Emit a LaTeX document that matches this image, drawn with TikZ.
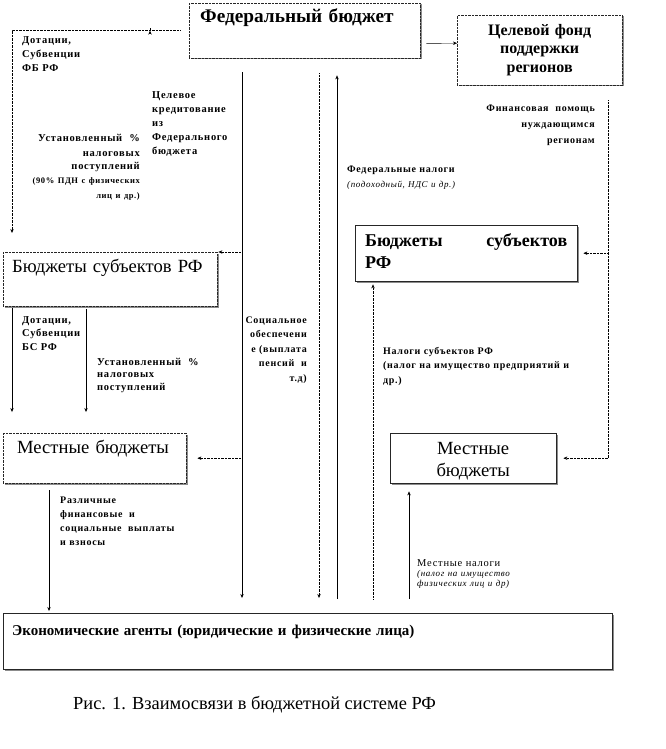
\documentclass[tikz,border=0pt]{standalone}
\usepackage{fontspec}
\setmainfont{Liberation Serif}
\newfontfamily\notefont[LetterSpace=7]{Liberation Serif}
\usetikzlibrary{arrows.meta,positioning,calc,shadows}

\begin{document}
\begin{tikzpicture}[x=1pt,y=-1pt,
  box/.style={draw=black!85,fill=white,anchor=north west,inner ysep=0pt,align=left,
    drop shadow={shadow xshift=1.3pt,shadow yshift=-1.3pt,fill=black!45,opacity=1}},
  dotbox/.style={box,densely dotted},
  note/.style={inner sep=0pt,anchor=base west,align=left,font=\notefont\bfseries\fontsize{10.5}{14}\selectfont},
  rnote/.style={note,anchor=base east,align=right},
  arrow/.style={-{Stealth[length=4pt,width=3.4pt]},thin},
  dotarrow/.style={arrow,densely dotted}
]
  \useasboundingbox (0,0) rectangle (665,749);
  % budget boxes
  \node[dotbox,inner xsep=11pt,text width=209pt,text height=19.5pt,text depth=35.5pt,font=\bfseries\fontsize{19.3}{22}\selectfont] (fed) at (189,3) {Федеральный бюджет};
  \node[dotbox,inner xsep=5pt,text width=155pt,align=center,text height=20pt,text depth=50pt,font=\bfseries\fontsize{16}{18.5}\selectfont] (fund) at (457,15) {Целевой фонд\\поддержки\\регионов};
  \node[dotbox,inner xsep=9pt,text width=196pt,text height=20pt,text depth=34pt,font=\fontsize{18.6}{22}\selectfont] (subjL) at (3,252) {Бюджеты субъектов РФ};
  \node[box,inner xsep=10pt,text width=202pt,text height=21pt,text depth=35pt,font=\bfseries\fontsize{18}{22}\selectfont] (subjR) at (355,225) {Бюджеты\hfill субъектов\\РФ};
  \node[dotbox,inner xsep=14pt,text width=155pt,text height=20pt,text depth=30pt,font=\fontsize{18.6}{22}\selectfont] (locL) at (3,433) {Местные бюджеты};
  \node[box,inner xsep=5pt,text width=156pt,align=center,text height=21pt,text depth=29pt,font=\fontsize{18.6}{22}\selectfont] (locR) at (390,433) {Местные\\бюджеты};
  \node[box,inner xsep=9pt,text width=591pt,text height=22pt,text depth=34pt,font=\bfseries\fontsize{15}{16}\selectfont] (agents) at (3,613) {Экономические агенты (юридические и физические лица)};
  \node[inner sep=0pt,anchor=base west,font=\fontsize{18.4}{22}\selectfont] (caption) at (73,709) {Рис. 1. Взаимосвязи в бюджетной системе РФ};
  % flow labels
  \node[note,text width=80pt] (dotFB) at (22,44) {Дотации,\\Субвенции\\ФБ РФ};
  \node[note,text width=80pt] (credit) at (152,99) {Целевое\\кредитование\\из\\Федерального\\бюджета};
  \node[rnote,text width=135pt] (shareFB) at (140,142) {Установленный~~\%\\налоговых\\поступлений\\\fontsize{8.5}{14}\selectfont(90\% ПДН с физических\\лиц и др.)};
  \node[rnote,text width=70pt,font=\notefont\bfseries\fontsize{10}{14.5}\selectfont] (social) at (307,323) {Социальное\\обеспечени\\е (выплата\\пенсий~~и\\т.д)};
  \node[note,text width=130pt,font=\notefont\bfseries\fontsize{10}{15}\selectfont] (fedTax) at (347,172) {Федеральные налоги\\{\mdseries\itshape\fontsize{9}{15}\selectfont(подоходный, НДС и др.)}};
  \node[rnote,text width=125pt,font=\notefont\bfseries\fontsize{10}{16}\selectfont] (aid) at (595,112) {Финансовая~~помощь\\нуждающимся\\регионам};
  \node[note,text width=70pt,font=\notefont\bfseries\fontsize{10.5}{13.5}\selectfont] (dotBS) at (22,323) {Дотации,\\Субвенции\\БС РФ};
  \node[note,text width=110pt,font=\notefont\bfseries\fontsize{10.5}{12.5}\selectfont] (shareBS) at (97,365) {Установленный~~\%\\налоговых\\поступлений};
  \node[note,text width=215pt,font=\notefont\bfseries\fontsize{10}{14.5}\selectfont] (regTax) at (383,354) {Налоги субъектов РФ\\(налог на имущество предприятий и\\др.)};
  \node[note,text width=125pt,font=\notefont\bfseries\fontsize{10}{14}\selectfont] (payments) at (60,503) {Различные\\финансовые~~и\\социальные~~выплаты\\и взносы};
  \node[note,text width=125pt,font=\notefont\fontsize{10.5}{10}\selectfont] (locTax) at (417,566) {Местные налоги\\{\itshape\fontsize{9}{10}\selectfont(налог на имущество\\физических лиц и др)}};
  % route points
  \coordinate (fedout) at ($(fed.west)+(-9,0)$);
  \coordinate (subjin) at ($(subjL.north west)+(0,-19)$);
  \coordinate (socialtop) at ($(fed.south west)+(53,14)$);
  \coordinate (transtop) at ($(fed.south west)+(130,15)$);
  \coordinate (taxup) at ($(fed.south west)+(148,17)$);
  \coordinate (agtop) at ($(agents.north)+(0,-14)$);
  \coordinate (regup) at ($(subjR.south west)+(18,3)$);
  \coordinate (loctaxup) at ($(locR.south west)+(19,8)$);
  \coordinate (aidtop) at ($(fund.south east)+(-14,15)$);
  % federal level
  \draw[dotarrow] (fedout) -| ($(subjin)+(9,0)$);
  \draw[arrow] ($(fedout)+(-30,0)$) -- ($(fedout)+(-30,0)$ |- subjin);
  \draw[arrow] ($(fed.south east)+(6,-15)$) -- ($(fund.west)+(0,-7)$);
  \draw[arrow,shorten >=15pt] (socialtop) -- (socialtop |- agents.north);
  \draw[dotarrow,shorten >=1pt] (socialtop |- subjL.north east) -- (subjL.north east);
  \draw[dotarrow,shorten >=11pt] (socialtop |- locL.east) -- (locL.east);
  \draw[dotarrow,shorten >=15pt] (transtop) -- (transtop |- agents.north);
  \draw[arrow] (taxup |- agtop) -- (taxup);
  % regional level
  \draw[dotarrow] (aidtop) |- ($(locR.east)+(7,0)$);
  \draw[dotarrow,shorten >=6pt] (aidtop |- subjR.east) -- (subjR.east);
  \draw[dotarrow] (regup |- agtop) -- (regup);
  \draw[arrow] ($(subjL.south west)+(9,2)$) -- ($(locL.north west)+(9,-21)$);
  \draw[arrow] ($(subjL.south west)+(83,3)$) -- ($(locL.north west)+(83,-21)$);
  % local level
  \draw[arrow] ($(locL.south west)+(46,7)$) -- ($(agents.north west)+(46,-2)$);
  \draw[arrow] (loctaxup |- agtop) -- (loctaxup);
\end{tikzpicture}
\end{document}
